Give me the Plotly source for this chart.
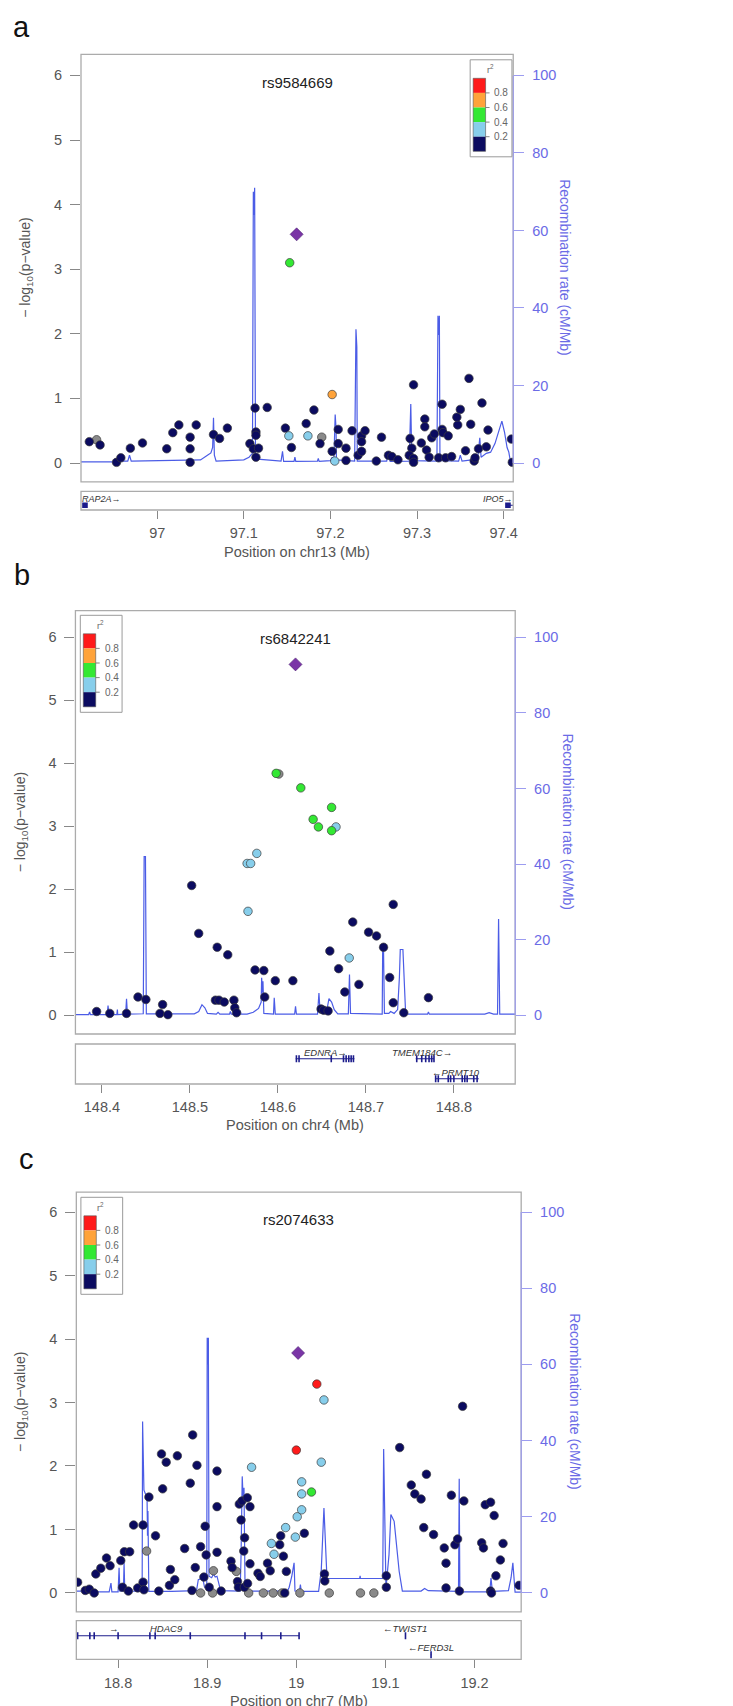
import plotly.graph_objects as go

W, H = 733, 1706
FONT = "Liberation Sans, Arial, Helvetica, sans-serif"

# ============================ DATA ============================
# ---- panel a : chr13 ----
a_lead_name = "rs9584669"
a_lead_pos = [97.161]
a_lead_logp = [3.54]
a_snp_pos = [96.9216, 96.9300, 96.9340, 96.9530, 96.9580, 96.9690, 96.9830, 97.0110, 97.0180, 97.0250,
             97.0380, 97.0380, 97.0380, 97.0450, 97.0650, 97.0720, 97.0810, 97.1070, 97.1130, 97.1140,
             97.1140, 97.1110, 97.1170, 97.1140, 97.1270, 97.1480, 97.1520, 97.1550, 97.1530, 97.1720,
             97.1740, 97.1810, 97.1880, 97.1900, 97.2020, 97.2020, 97.2050, 97.2090, 97.2090, 97.2180,
             97.2180, 97.2250, 97.2320, 97.2360, 97.2360, 97.2400, 97.2360, 97.2530, 97.2590, 97.2670,
             97.2710, 97.2780, 97.2920, 97.2940, 97.2960, 97.2910, 97.2960, 97.2960, 97.3050, 97.3090,
             97.3090, 97.3110, 97.3140, 97.3170, 97.3200, 97.3250, 97.3290, 97.3290, 97.3300, 97.3360,
             97.3330, 97.3400, 97.3470, 97.3460, 97.3500, 97.3560, 97.3600, 97.3620, 97.3660, 97.3670,
             97.3710, 97.3750, 97.3800, 97.3820, 97.4090, 97.4100]
a_snp_logp = [0.33, 0.36, 0.28, 0.01, 0.08, 0.23, 0.31, 0.22, 0.47, 0.59,
              0.40, 0.22, 0.01, 0.59, 0.44, 0.38, 0.54, 0.30, 0.85, 0.48,
              0.43, 0.22, 0.23, 0.09, 0.86, 0.54, 0.42, 0.24, 3.10, 0.61,
              0.42, 0.82, 0.30, 0.40, 1.06, 0.18, 0.03, 0.52, 0.30, 0.23,
              0.04, 0.50, 0.12, 0.42, 0.33, 0.50, 0.18, 0.03, 0.40, 0.12,
              0.10, 0.05, 0.38, 0.23, 1.21, 0.12, 0.07, 0.01, 0.31, 0.68,
              0.56, 0.20, 0.09, 0.39, 0.45, 0.08, 0.91, 0.52, 0.47, 0.42,
              0.08, 0.10, 0.59, 0.71, 0.83, 0.19, 1.31, 0.60, 0.03, 0.08,
              0.22, 0.93, 0.25, 0.51, 0.37, 0.01]
# LD bins: 0 <0.2, 1 0.2-0.4, 2 0.4-0.6, 3 0.6-0.8, 4 >0.8, 5 no LD info
a_snp_ld = [0, 5, 0, 0, 0, 0, 0, 0, 0, 0,
            0, 0, 0, 0, 0, 0, 0, 0, 0, 0,
            0, 0, 0, 0, 0, 0, 1, 0, 2, 0,
            1, 0, 0, 5, 3, 0, 1, 0, 0, 0,
            0, 0, 0, 0, 0, 0, 0, 0, 0, 0,
            0, 0, 0, 0, 0, 0, 0, 0, 0, 0,
            0, 0, 0, 0, 0, 0, 0, 0, 0, 0,
            0, 0, 0, 0, 0, 0, 0, 0, 0, 0,
            0, 0, 0, 0, 0, 0]
a_rec_pos = [96.9120, 96.9500, 96.9520, 96.9550, 96.9660, 96.9680, 96.9700, 97.0200, 97.0500, 97.0580,
             97.0620, 97.0640, 97.0650, 97.0660, 97.0680, 97.1000, 97.1060, 97.1100, 97.1110, 97.1118,
             97.1125, 97.1135, 97.1160, 97.1430, 97.1447, 97.1460, 97.1580, 97.1590, 97.1600, 97.1850,
             97.1860, 97.1870, 97.2000, 97.2020, 97.2040, 97.2055, 97.2065, 97.2070, 97.2280, 97.2295,
             97.2305, 97.2310, 97.2650, 97.2670, 97.2690, 97.2910, 97.2928, 97.2940, 97.3230, 97.3242,
             97.3250, 97.3258, 97.3265, 97.3480, 97.3500, 97.3520, 97.3650, 97.3700, 97.3725, 97.3740,
             97.3800, 97.3850, 97.3900, 97.3950, 97.3980, 97.4010, 97.4040, 97.4060, 97.4080, 97.4111]
a_rec_rate = [0.3, 0.3, 1.0, 0.5, 0.5, 2.0, 0.5, 0.6, 0.8, 2.0,
              2.6, 4.0, 11.7, 2.0, 0.5, 0.8, 1.5, 2.5, 70.0, 64.0,
              71.0, 2.0, 1.0, 0.5, 3.0, 0.4, 0.4, 1.5, 0.4, 0.5,
              1.2, 0.4, 0.6, 1.5, 0.6, 12.5, 9.0, 0.8, 0.5, 34.5,
              30.0, 0.5, 0.5, 2.9, 0.4, 0.5, 15.2, 0.6, 0.5, 38.0,
              33.0, 38.0, 0.6, 0.5, 2.0, 0.5, 0.8, 1.0, 6.5, 1.5,
              2.5, 2.8, 5.0, 9.0, 10.8, 8.0, 4.0, 2.8, 0.2, 0.2]
a_xtick_vals = [97.0, 97.1, 97.2, 97.3, 97.4]
a_xtick_text = ["97", "97.1", "97.2", "97.3", "97.4"]
a_xtitle = "Position on chr13 (Mb)"
a_gene_name = ["RAP2A", "IPO5"]
a_gene_start = [96.9160, 97.4050]
a_gene_end = [96.9172, 97.4111]
a_gene_strand = ["+", "+"]
a_gene_row = [0, 0]
a_gene_label_x = [96.9357, 97.3933]
a_gene_arrow_x = [None, None]
a_gene_exons = [[96.9166], [97.4050]]

# ---- panel b : chr4 ----
b_lead_name = "rs6842241"
b_lead_pos = [148.620]
b_lead_logp = [5.57]
b_snp_pos = [148.394, 148.409, 148.428, 148.441, 148.450, 148.469, 148.466, 148.475, 148.502, 148.510,
             148.529, 148.533, 148.539, 148.531, 148.543, 148.550, 148.551, 148.553, 148.565, 148.569,
             148.576, 148.566, 148.574, 148.584, 148.585, 148.597, 148.617, 148.649, 148.652, 148.657,
             148.659, 148.669, 148.681, 148.676, 148.685, 148.692, 148.703, 148.712, 148.720, 148.727,
             148.731, 148.731, 148.743, 148.771, 148.601, 148.598, 148.626, 148.661, 148.640, 148.646,
             148.666, 148.661]
b_snp_logp = [0.06, 0.03, 0.03, 0.29, 0.25, 0.17, 0.03, 0.01, 2.06, 1.30,
              0.24, 0.24, 0.21, 1.08, 0.96, 0.24, 0.12, 0.04, 2.41, 2.41,
              2.57, 1.65, 0.72, 0.71, 0.29, 0.55, 0.55, 0.10, 0.08, 0.07,
              1.02, 0.74, 0.91, 0.37, 1.48, 0.49, 1.32, 1.26, 1.08, 0.60,
              1.76, 0.20, 0.04, 0.28, 3.83, 3.84, 3.61, 3.30, 3.11, 2.99,
              2.99, 2.93]
b_snp_ld = [0, 0, 0, 0, 0, 0, 0, 0, 0, 0,
            0, 0, 0, 0, 0, 0, 0, 0, 1, 1,
            1, 1, 0, 0, 0, 0, 0, 0, 0, 0,
            0, 0, 1, 0, 0, 0, 0, 0, 0, 0,
            0, 0, 0, 0, 5, 2, 2, 2, 2, 2,
            1, 2]
b_rec_pos = [148.3700, 148.3850, 148.3860, 148.3870, 148.4060, 148.4070, 148.4080, 148.4170, 148.4176, 148.4180,
             148.4270, 148.4280, 148.4290, 148.4470, 148.4480, 148.4495, 148.4505, 148.5050, 148.5100, 148.5137,
             148.5170, 148.5200, 148.5300, 148.5320, 148.5340, 148.5450, 148.5460, 148.5470, 148.5560, 148.5570,
             148.5580, 148.5650, 148.5720, 148.5780, 148.5810, 148.5815, 148.5825, 148.5830, 148.5840, 148.5950,
             148.5958, 148.5970, 148.6190, 148.6200, 148.6210, 148.6450, 148.6466, 148.6480, 148.6550, 148.6580,
             148.6610, 148.6640, 148.6680, 148.6800, 148.6813, 148.6825, 148.7185, 148.7190, 148.7195, 148.7200,
             148.7210, 148.7260, 148.7280, 148.7320, 148.7360, 148.7380, 148.7390, 148.7420, 148.7430, 148.7450,
             148.7480, 148.7700, 148.7710, 148.7720, 148.8350, 148.8400, 148.8450, 148.8495, 148.8507, 148.8520,
             148.8696]
b_rec_rate = [0.2, 0.2, 0.9, 0.2, 0.2, 2.6, 0.2, 0.2, 1.5, 0.2,
              0.3, 4.4, 0.3, 0.4, 42.0, 42.0, 0.4, 0.4, 1.0, 2.8,
              2.0, 0.5, 0.3, 0.8, 0.3, 0.3, 1.0, 0.3, 0.3, 1.2,
              0.3, 0.3, 0.8, 1.8, 3.5, 9.9, 6.0, 9.0, 0.5, 0.3,
              4.6, 0.3, 0.3, 2.4, 0.3, 0.3, 5.9, 0.6, 0.6, 4.4,
              3.5, 1.5, 0.4, 0.4, 10.8, 0.5, 0.3, 17.0, 14.0, 17.0,
              0.5, 0.5, 1.0, 0.5, 1.5, 10.0, 17.4, 17.4, 10.0, 1.0,
              0.3, 0.3, 0.9, 0.3, 0.3, 0.7, 0.3, 0.3, 25.5, 0.3,
              0.3]
b_xtick_vals = [148.4, 148.5, 148.6, 148.7, 148.8]
b_xtick_text = ["148.4", "148.5", "148.6", "148.7", "148.8"]
b_xtitle = "Position on chr4 (Mb)"
b_gene_name = ["EDNRA", "TMEM184C", "PRMT10"]
b_gene_start = [148.6202, 148.7566, 148.7784]
b_gene_end = [148.6869, 148.7773, 148.8281]
b_gene_strand = ["+", "+", "-"]
b_gene_row = [0, 0, 1]
b_gene_label_x = [148.6546, 148.7634, 148.8018]
b_gene_arrow_x = [None, None, None]
b_gene_exons = [[148.6210, 148.6240, 148.6606, 148.6745, 148.6775, 148.6805, 148.6832, 148.6858],
                [148.7577, 148.7634, 148.7679, 148.7717, 148.7747, 148.7773],
                [148.7792, 148.7822, 148.7935, 148.7962, 148.7999, 148.8094, 148.8123, 148.8150, 148.8225, 148.8263]]

# ---- panel c : chr7 ----
c_lead_name = "rs2074633"
c_lead_pos = [19.002]
c_lead_logp = [3.78]
c_snp_pos = [18.7546, 18.7632, 18.7677, 18.7732, 18.7750, 18.7806, 18.7870, 18.7910, 18.8030, 18.8050,
             18.8070, 18.8130, 18.8115, 18.8174, 18.8220, 18.8280, 18.8280, 18.8290, 18.8320, 18.8346,
             18.8420, 18.8457, 18.8487, 18.8500, 18.8540, 18.8587, 18.8576, 18.8636, 18.8665, 18.8747,
             18.8810, 18.8837, 18.8885, 18.8829, 18.8866, 18.8926, 18.8926, 18.8963, 18.8977, 18.8988,
             18.9022, 18.9070, 18.9060, 18.9110, 18.9110, 18.9110, 18.9156, 18.9267, 18.9280, 18.9327,
             18.9340, 18.9350, 18.9360, 18.9390, 18.9450, 18.9480, 18.9380, 18.9420, 18.9410, 18.9480,
             18.9417, 18.9453, 18.9465, 18.9498, 18.9570, 18.9595, 18.9630, 18.9677, 18.9707, 18.9720,
             18.9750, 18.9740, 18.9814, 18.9825, 18.9840, 18.9855, 18.9870, 18.9888, 18.9880, 18.9989,
             19.0000, 19.0010, 19.0060, 19.0060, 19.0060, 19.0090, 19.0170, 19.0230, 19.0310, 19.0280,
             19.0316, 19.0320, 19.0040, 19.0370, 19.0720, 19.0870, 19.1010, 19.1010, 19.1160, 19.1290,
             19.1330, 19.1400, 19.1460, 19.1430, 19.1540, 19.1660, 19.1680, 19.1680, 19.1740, 19.1780,
             19.1810, 19.1830, 19.1866, 19.1880, 19.2080, 19.2100, 19.2120, 19.2180, 19.2220, 19.2180,
             19.2190, 19.2240, 19.2290, 19.2320, 19.2500]
c_snp_logp = [0.17, 0.04, 0.06, 0.00, 0.30, 0.39, 0.55, 0.43, 0.51, 0.09,
              0.65, 0.65, 0.03, 1.07, 0.08, 1.07, 0.17, 0.05, 0.66, 1.51,
              0.90, 0.03, 2.19, 1.64, 2.06, 0.37, 0.12, 0.21, 2.16, 0.70,
              1.73, 2.49, 2.01, 0.04, 0.40, 0.00, 0.73, 0.25, 1.05, 0.60,
              0.09, 0.35, 0.00, 1.92, 1.36, 0.64, 0.03, 0.50, 0.40, 0.34,
              0.18, 0.09, 1.40, 1.45, 1.50, 1.36, 1.15, 0.87, 0.66, 0.46,
              0.09, 0.15, 0.00, 1.98, 0.31, 0.26, 0.00, 0.47, 0.35, 0.78,
              0.61, 0.00, 0.76, 0.90, 0.00, 0.58, 0.00, 0.34, 1.03, 0.88,
              2.25, 1.20, 1.75, 1.56, 1.31, 0.94, 1.59, 3.29, 3.04, 2.06,
              0.30, 0.19, 0.00, 0.00, 0.00, 0.00, 0.27, 0.09, 2.29, 1.70,
              1.56, 1.48, 1.87, 1.03, 0.92, 0.71, 0.47, 0.08, 1.54, 0.76,
              0.85, 0.03, 2.94, 1.45, 0.79, 0.71, 1.39, 1.43, 1.22, 0.03,
              0.00, 0.27, 0.52, 0.78, 0.12]
c_snp_ld = [0, 0, 0, 0, 0, 0, 0, 0, 0, 0,
            0, 0, 0, 0, 0, 0, 0, 0, 5, 0,
            0, 0, 0, 0, 0, 0, 0, 0, 0, 0,
            0, 0, 0, 0, 0, 5, 0, 0, 0, 0,
            0, 5, 5, 0, 0, 0, 0, 0, 0, 5,
            0, 0, 0, 0, 0, 0, 0, 0, 0, 0,
            0, 0, 5, 1, 0, 0, 5, 0, 0, 1,
            1, 5, 0, 0, 5, 0, 0, 0, 1, 1,
            4, 1, 1, 1, 1, 0, 2, 4, 1, 1,
            0, 0, 5, 5, 5, 5, 0, 0, 0, 0,
            0, 0, 0, 0, 0, 0, 0, 0, 0, 0,
            0, 0, 0, 0, 0, 0, 0, 0, 0, 0,
            0, 0, 0, 0, 0]
c_rec_pos = [18.7531, 18.7650, 18.7680, 18.7720, 18.7750, 18.7900, 18.7920, 18.7930, 18.8000, 18.8011,
             18.8020, 18.8060, 18.8067, 18.8075, 18.8270, 18.8275, 18.8290, 18.8325, 18.8330, 18.8335,
             18.8345, 18.8600, 18.8880, 18.8900, 18.8950, 18.8970, 18.8995, 18.9000, 18.9008, 18.9013,
             18.9020, 18.9050, 18.9070, 18.9090, 18.9110, 18.9130, 18.9150, 18.9370, 18.9380, 18.9393,
             18.9403, 18.9413, 18.9425, 18.9900, 18.9920, 18.9950, 18.9975, 18.9985, 19.0035, 19.0046,
             19.0055, 19.0250, 19.0280, 19.0310, 19.0344, 19.0710, 19.0716, 19.0720, 19.0970, 19.0980,
             19.0995, 19.1006, 19.1040, 19.1061, 19.1098, 19.1117, 19.1154, 19.1190, 19.1400, 19.1440,
             19.1480, 19.1820, 19.1828, 19.1835, 19.2170, 19.2185, 19.2200, 19.2380, 19.2410, 19.2430,
             19.2455, 19.2523]
c_rec_rate = [0.5, 0.5, 1.0, 0.8, 0.3, 0.3, 2.6, 0.3, 0.3, 6.6,
              0.5, 0.5, 7.9, 0.5, 0.5, 45.0, 27.0, 25.0, 15.0, 21.5,
              0.4, 0.4, 0.6, 3.5, 3.9, 1.5, 1.5, 67.0, 60.0, 67.0,
              4.4, 4.0, 5.0, 4.2, 4.4, 2.5, 0.6, 0.5, 10.0, 30.6,
              25.0, 27.6, 0.5, 0.5, 1.5, 4.5, 7.9, 0.5, 0.4, 2.2,
              0.4, 0.4, 6.0, 22.3, 3.8, 3.8, 4.5, 3.8, 3.8, 37.8,
              20.0, 1.3, 10.0, 20.6, 18.8, 14.4, 5.7, 0.5, 0.5, 1.2,
              0.6, 0.4, 30.0, 0.3, 0.3, 3.9, 0.4, 0.6, 4.0, 7.9,
              0.2, 0.2]
c_xtick_vals = [18.8, 18.9, 19.0, 19.1, 19.2]
c_xtick_text = ["18.8", "18.9", "19", "19.1", "19.2"]
c_xtitle = "Position on chr7 (Mb)"
c_gene_name = ["HDAC9", "TWIST1", "FERD3L"]
c_gene_start = [18.7531, 19.1220, 19.1509]
c_gene_end = [19.0031, 19.1230, 19.1515]
c_gene_strand = ["+", "-", "-"]
c_gene_row = [0, 0, 1]
c_gene_label_x = [18.8543, 19.1218, 19.1508]
c_gene_arrow_x = [18.7955, None, None]
c_gene_exons = [[18.7546, 18.7683, 18.7732, 18.8000, 18.8357, 18.8416, 18.8810, 18.9424, 18.9610, 18.9826, 19.0031],
                [19.1225], [19.1512]]

legend_r2_ticks = ["0.8", "0.6", "0.4", "0.2"]

# ============================ STYLE ============================
LD_COLORS = {0: "#0b0b60", 1: "#87CEEB", 2: "#33E833", 3: "#FFA33A", 4: "#FF1A1A", 5: "#8a8a8a"}
LD_ORDER = [5, 0, 1, 2, 3, 4]
SWATCH = ["#FF1A1A", "#FFA33A", "#33E833", "#87CEEB", "#0b0b60"]
LEAD_COLOR = "#7A35A6"
REC_COLOR = "#4B5CE6"
AXIS_BLUE = "#6b6be6"
RIGHT_LINE = "#9c9cf0"
BOX_GRAY = "#ababab"
TEXT_GRAY = "#555555"
GENE_BLUE = "#1c1c8c"
REC_SCALE = 100.0 / 6.0

panels = [
    dict(letter="a", letter_xy=(14, 1.0), letter_anchor="top",
         snp=(a_snp_pos, a_snp_logp, a_snp_ld), lead=(a_lead_pos, a_lead_logp, a_lead_name),
         rec=(a_rec_pos, a_rec_rate), ticks=(a_xtick_vals, a_xtick_text), xtitle=a_xtitle,
         genes=(a_gene_name, a_gene_start, a_gene_end, a_gene_strand, a_gene_row, a_gene_label_x,
                a_gene_arrow_x, a_gene_exons),
         box=(73.4, 508.0, 46.3, 473.9), gbox=(483.3, 502.0),
         xr=(96.9120, 97.4111), yr=(-0.2926, 6.327),
         title_y=74.1, xtitle_y=543.5, ltitle_x=18.7, rtitle_x=560.0,
         legend=(464.7, 51.8), rows=[0.25], label_dy=0.32, gfont=9, exsym="square", exsize=4),
    dict(letter="b", letter_xy=(14.5, 567.0), letter_anchor="middle",
         snp=(b_snp_pos, b_snp_logp, b_snp_ld), lead=(b_lead_pos, b_lead_logp, b_lead_name),
         rec=(b_rec_pos, b_rec_rate), ticks=(b_xtick_vals, b_xtick_text), xtitle=b_xtitle,
         genes=(b_gene_name, b_gene_start, b_gene_end, b_gene_strand, b_gene_row, b_gene_label_x,
                b_gene_arrow_x, b_gene_exons),
         box=(67.8, 510.0, 602.7, 1026.0), gbox=(1036.0, 1076.0),
         xr=(148.36994, 148.8696), yr=(-0.297, 6.422),
         title_y=630.7, xtitle_y=1117.4, ltitle_x=13.0, rtitle_x=563.0,
         legend=(72.7, 607.3), rows=[0.63, 0.13], label_dy=0.17, gfont=9.5, exsym="line-ns", exsize=5),
    dict(letter="c", letter_xy=(18.7, 1151.3), letter_anchor="middle",
         snp=(c_snp_pos, c_snp_logp, c_snp_ld), lead=(c_lead_pos, c_lead_logp, c_lead_name),
         rec=(c_rec_pos, c_rec_rate), ticks=(c_xtick_vals, c_xtick_text), xtitle=c_xtitle,
         genes=(c_gene_name, c_gene_start, c_gene_end, c_gene_strand, c_gene_row, c_gene_label_x,
                c_gene_arrow_x, c_gene_exons),
         box=(68.7, 516.0, 1184.2, 1603.9), gbox=(1612.7, 1651.4),
         xr=(18.75313, 19.25234), yr=(-0.298, 6.312),
         title_y=1211.7, xtitle_y=1692.7, ltitle_x=13.0, rtitle_x=570.0,
         legend=(73.3, 1189.3), rows=[0.61, 0.12], label_dy=0.2, gfont=9.5, exsym="line-ns", exsize=5),
]


def PX(px):
    return px / W


def PY(py):
    return 1 - py / H


def nm(prefix, n):
    return prefix if n == 1 else f"{prefix}{n}"


def lk(prefix, n):
    return f"{prefix}axis" if n == 1 else f"{prefix}axis{n}"


fig = go.Figure()
layout = {}
shapes = []
annotations = []


def add_legend(x0, y0):
    w, h = 42.0, 97.0
    shapes.append(dict(type="rect", xref="paper", yref="paper", x0=PX(x0), x1=PX(x0 + w),
                       y0=PY(y0 + h), y1=PY(y0), line=dict(color="#9a9a9a", width=1)))
    sx0, sx1 = x0 + 3.0, x0 + 15.5
    sy0, sh = y0 + 18.5, 14.6
    for k, col in enumerate(SWATCH):
        shapes.append(dict(type="rect", xref="paper", yref="paper", x0=PX(sx0), x1=PX(sx1),
                           y0=PY(sy0 + sh * (k + 1)), y1=PY(sy0 + sh * k),
                           fillcolor=col, line=dict(width=0)))
    shapes.append(dict(type="rect", xref="paper", yref="paper", x0=PX(sx0), x1=PX(sx1),
                       y0=PY(sy0 + sh * 5), y1=PY(sy0), line=dict(color="#555", width=0.6)))
    for k, lab in enumerate(legend_r2_ticks):
        yy = sy0 + sh * (k + 1)
        shapes.append(dict(type="line", xref="paper", yref="paper", x0=PX(sx1), x1=PX(sx1 + 4),
                           y0=PY(yy), y1=PY(yy), line=dict(color="#666", width=0.8)))
        annotations.append(dict(xref="paper", yref="paper", x=PX(x0 + 31.5), y=PY(yy), text=lab,
                                showarrow=False, xanchor="center", yanchor="middle",
                                font=dict(family=FONT, size=10, color="#666")))
    annotations.append(dict(xref="paper", yref="paper", x=PX(x0 + 20), y=PY(y0 + 9.5),
                            text="r<sup>2</sup>", showarrow=False, xanchor="center",
                            yanchor="middle", font=dict(family=FONT, size=9, color="#666")))


for i, p in enumerate(panels):
    xm, xg = 2 * i + 1, 2 * i + 2
    yb, yo, yg = 3 * i + 1, 3 * i + 2, 3 * i + 3
    L, R, T, B = p["box"]
    gT, gB = p["gbox"]
    yr = p["yr"]
    rr = (yr[0] * REC_SCALE, yr[1] * REC_SCALE)

    layout[lk("x", xm)] = dict(domain=[PX(L), PX(R)], range=list(p["xr"]), anchor=nm("y", yb),
                               visible=False, showgrid=False, zeroline=False)
    layout[lk("y", yb)] = dict(domain=[PY(B), PY(T)], range=list(rr), anchor=nm("x", xm), side="right",
                               tickvals=[0, 20, 40, 60, 80, 100], ticks="outside", ticklen=10,
                               tickwidth=1, tickcolor=RIGHT_LINE, ticklabelstandoff=5,
                               tickfont=dict(family=FONT, size=14.5, color=AXIS_BLUE),
                               showgrid=False, zeroline=False, showline=False)
    layout[lk("y", yo)] = dict(overlaying=nm("y", yb), range=list(yr), anchor=nm("x", xm), side="left",
                               tickvals=[0, 1, 2, 3, 4, 5, 6], ticks="outside", ticklen=10,
                               tickwidth=1, tickcolor="#888", ticklabelstandoff=5,
                               tickfont=dict(family=FONT, size=14.5, color=TEXT_GRAY),
                               showgrid=False, zeroline=False, showline=False)
    layout[lk("x", xg)] = dict(domain=[PX(L), PX(R)], range=list(p["xr"]), anchor=nm("y", yg),
                               tickvals=p["ticks"][0], ticktext=p["ticks"][1], ticks="outside",
                               ticklen=8, tickwidth=1, tickcolor="#888", ticklabelstandoff=2,
                               tickfont=dict(family=FONT, size=14.5, color=TEXT_GRAY),
                               showgrid=False, zeroline=False, showline=False)
    layout[lk("y", yg)] = dict(domain=[PY(gB), PY(gT)], range=[0, 1], anchor=nm("x", xg),
                               visible=False, showgrid=False, zeroline=False)

    # recombination rate line
    fig.add_trace(go.Scatter(x=p["rec"][0], y=p["rec"][1], mode="lines",
                             line=dict(color=REC_COLOR, width=1.2),
                             xaxis=nm("x", xm), yaxis=nm("y", yb), hoverinfo="skip"))
    # SNPs
    pos, lp, ld = p["snp"]
    for code in LD_ORDER:
        idx = [k for k in range(len(pos)) if ld[k] == code]
        if not idx:
            continue
        fig.add_trace(go.Scatter(x=[pos[k] for k in idx], y=[lp[k] for k in idx], mode="markers",
                                 marker=dict(size=8.5, color=LD_COLORS[code],
                                             line=dict(color="#3c3c3c", width=0.7)),
                                 xaxis=nm("x", xm), yaxis=nm("y", yo), hoverinfo="skip"))
    lpos, llp, lname = p["lead"]
    fig.add_trace(go.Scatter(x=lpos, y=llp, mode="markers",
                             marker=dict(symbol="diamond", size=10, color=LEAD_COLOR,
                                         line=dict(color="#4a2070", width=0.6)),
                             xaxis=nm("x", xm), yaxis=nm("y", yo), hoverinfo="skip"))

    # genes
    gname, gs, ge, gstr, grow, glx, garr, gex = p["genes"]
    for k in range(len(gname)):
        ry = p["rows"][grow[k]]
        fig.add_trace(go.Scatter(x=[gs[k], ge[k]], y=[ry, ry], mode="lines",
                                 line=dict(color=GENE_BLUE, width=1.1),
                                 xaxis=nm("x", xg), yaxis=nm("y", yg), hoverinfo="skip"))
        fig.add_trace(go.Scatter(x=gex[k], y=[ry] * len(gex[k]), mode="markers",
                                 marker=dict(symbol=p["exsym"], size=p["exsize"], color=GENE_BLUE,
                                             line=dict(color=GENE_BLUE, width=1.6)),
                                 xaxis=nm("x", xg), yaxis=nm("y", yg), hoverinfo="skip"))
        arrow = "\u2192" if gstr[k] == "+" else "\u2190"
        if garr[k] is not None:
            txt = gname[k]
            annotations.append(dict(xref=nm("x", xg), yref=nm("y", yg), x=garr[k],
                                    y=ry + p["label_dy"], text=arrow, showarrow=False,
                                    xanchor="center", yanchor="middle",
                                    font=dict(family=FONT, size=p["gfont"], color="#333")))
        elif gstr[k] == "+":
            txt = gname[k] + arrow
        else:
            txt = arrow + gname[k]
        annotations.append(dict(xref=nm("x", xg), yref=nm("y", yg), x=glx[k], y=ry + p["label_dy"],
                                text=txt, showarrow=False, xanchor="center", yanchor="middle",
                                font=dict(family=FONT, size=p["gfont"], color="#333", style="italic")))

    # boxes
    shapes.append(dict(type="rect", xref="paper", yref="paper", x0=PX(L), x1=PX(R), y0=PY(B), y1=PY(T),
                       line=dict(color=BOX_GRAY, width=1.3)))
    shapes.append(dict(type="rect", xref="paper", yref="paper", x0=PX(L), x1=PX(R), y0=PY(gB), y1=PY(gT),
                       line=dict(color=BOX_GRAY, width=1.3)))
    # right (recombination) axis line from 0 to 100
    shapes.append(dict(type="line", xref="paper", yref=nm("y", yb), x0=PX(R), x1=PX(R), y0=0, y1=100,
                       line=dict(color=RIGHT_LINE, width=1.2)))

    cx, cy = (L + R) / 2, (T + B) / 2
    annotations.append(dict(xref="paper", yref="paper", x=PX(p["letter_xy"][0]), y=PY(p["letter_xy"][1]),
                            text=p["letter"], showarrow=False, xanchor="center",
                            yanchor=p["letter_anchor"],
                            font=dict(family=FONT, size=29, color="#111")))
    annotations.append(dict(xref="paper", yref="paper", x=PX(cx), y=PY(p["title_y"]), text=lname,
                            showarrow=False, xanchor="center", yanchor="middle",
                            font=dict(family=FONT, size=15, color="#222")))
    annotations.append(dict(xref="paper", yref="paper", x=PX(cx), y=PY(p["xtitle_y"]), text=p["xtitle"],
                            showarrow=False, xanchor="center", yanchor="middle",
                            font=dict(family=FONT, size=14.5, color=TEXT_GRAY)))
    annotations.append(dict(xref="paper", yref="paper", x=PX(p["ltitle_x"]), y=PY(cy),
                            text="\u2212 log<sub>10</sub>(p\u2212value)", textangle=-90,
                            showarrow=False, xanchor="center", yanchor="middle",
                            font=dict(family=FONT, size=14, color=TEXT_GRAY)))
    annotations.append(dict(xref="paper", yref="paper", x=PX(p["rtitle_x"]), y=PY(cy),
                            text="Recombination rate (cM/Mb)", textangle=90,
                            showarrow=False, xanchor="center", yanchor="middle",
                            font=dict(family=FONT, size=14, color=AXIS_BLUE)))
    add_legend(*p["legend"])

fig.update_layout(width=W, height=H, margin=dict(l=0, r=0, t=0, b=0),
                  paper_bgcolor="white", plot_bgcolor="white", showlegend=False,
                  hovermode=False, font=dict(family=FONT), shapes=shapes, annotations=annotations,
                  **layout)
fig.write_html("out.html")
